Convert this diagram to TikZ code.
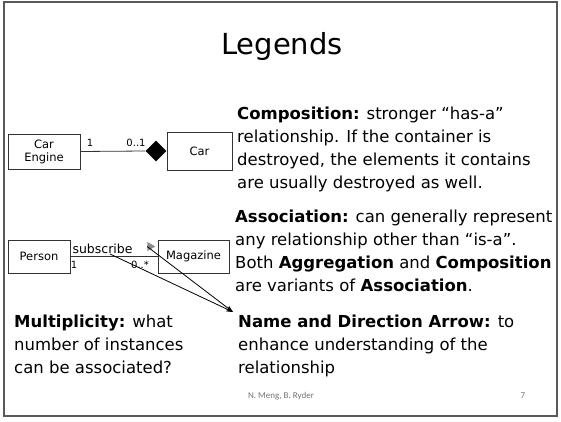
\documentclass[tikz,border=0pt]{standalone}
\usepackage{fontspec}
\setmainfont{DejaVu Sans}
\newfontfamily\footfont{Carlito}
\usetikzlibrary{shapes.geometric,arrows.meta}
\begin{document}
\begin{tikzpicture}[x=1pt,y=-1pt,
  umlbox/.style={draw=black!80,line width=0.6pt,rectangle,inner sep=0pt,align=center,font=\fontsize{11.5}{13}\selectfont},
  mult/.style={inner sep=0pt,font=\fontsize{10}{11}\selectfont},
  body/.style={inner sep=0pt,anchor=north west,align=left,font=\fontsize{16.5}{23}\selectfont},
  pointer/.style={line width=0.8pt,-{Stealth[length=7pt,width=5pt]}}]
\useasboundingbox (0,0) rectangle (561,422);
\draw[black!65,line width=1.3pt] (4,2) rectangle (557,416);
\node[font=\fontsize{29}{32}\selectfont] (title) at (282,47) {Legends};
% composition example
\node[umlbox,minimum width=72pt,minimum height=35pt] (engine) at (44,151.5) {Car\\Engine};
\node[umlbox,minimum width=65pt,minimum height=38pt] (car) at (199.5,151) {Car};
\node[diamond,fill=black,inner sep=0pt,minimum width=21pt,minimum height=21pt,anchor=east] (dia) at (car.west) {};
\draw[line width=0.8pt,black!80] (engine.east) -- (dia.west);
\node[mult] (m1) at (90,143) {1};
\node[mult] (m2) at (136,143) {0..1};
% association example
\node[umlbox,minimum width=62pt,minimum height=33pt] (person) at (39,256.5) {Person};
\node[umlbox,minimum width=71pt,minimum height=33pt] (mag) at (193.5,256.5) {Magazine};
\draw[line width=0.8pt,black!80] (person.east) -- (mag.west);
\node[mult,font=\fontsize{12.5}{13}\selectfont] (name) at (102.5,249) {subscribe};
\node[mult] (m3) at (74,265) {1};
\node[mult] (m4) at (140,265) {0..*};
\node[isosceles triangle,fill=black!45,inner sep=0pt,minimum width=7pt,minimum height=8pt,isosceles triangle apex angle=60] (dir) at (150,246.5) {};
\coordinate (s1) at (110,254);
\coordinate (tip) at (233,312);
\draw[pointer] (s1) -- (tip);
\draw[pointer] (dir.west) -- (tip);
% texts
\node[body] (comp) at (237,107) {\textbf{Composition:} stronger “has-a”\\relationship. If the container is\\destroyed, the elements it contains\\are usually destroyed as well.};
\node[body] (assoc) at (235,210) {\textbf{Association:} can generally represent\\any relationship other than “is-a”.\\Both \textbf{Aggregation} and \textbf{Composition}\\are variants of \textbf{Association}.};
\node[body] (multi) at (14,315) {\textbf{Multiplicity:} what\\number of instances\\can be associated?};
\node[body] (nda) at (238,315) {\textbf{Name and Direction Arrow:} to\\enhance understanding of the\\relationship};
\node[font=\footfont\fontsize{9}{10}\selectfont,text=black!55] (foot) at (281,396) {N. Meng, B. Ryder};
\node[font=\footfont\fontsize{9}{10}\selectfont,text=black!55] (page) at (523,396) {7};
\end{tikzpicture}
\end{document}
